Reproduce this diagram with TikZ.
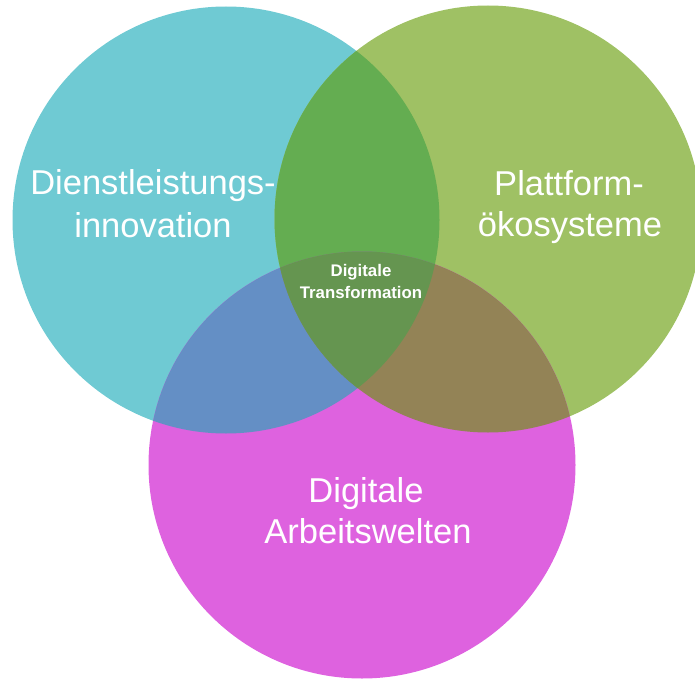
\documentclass[tikz,border=0pt]{standalone}
\usepackage{fontspec}
\setmainfont{Liberation Sans}
\definecolor{cCyan}{HTML}{6FCAD3}
\definecolor{cGreen}{HTML}{9FC164}
\definecolor{cMag}{HTML}{DE62DF}
\definecolor{cCG}{HTML}{64AD51}
\definecolor{cCM}{HTML}{648FC5}
\definecolor{cGM}{HTML}{938356}
\definecolor{cAll}{HTML}{659550}
\begin{document}
\begin{tikzpicture}[x=1bp,y=-1bp,
  biglabel/.style={text=white,align=center,font=\fontsize{34.5bp}{42bp}\selectfont,inner sep=0pt},
  smalllabel/.style={text=white,align=center,font=\bfseries\fontsize{16.8bp}{22bp}\selectfont,inner sep=0pt}]
\useasboundingbox (0,0) rectangle (695,679);
\begin{scope}
\clip (0,0) rectangle (695,679);
\def\rr{213.5}
\coordinate (cC) at (226,220);
\coordinate (cG) at (488,219);
\coordinate (cM) at (362,465);
\fill[cCyan] (cC) circle (\rr);
\fill[cGreen] (cG) circle (\rr);
\fill[cMag] (cM) circle (\rr);
\begin{scope}
  \clip (cC) circle (\rr);
  \fill[cCG] (cG) circle (\rr);
  \fill[cCM] (cM) circle (\rr);
\end{scope}
\begin{scope}
  \clip (cG) circle (\rr);
  \fill[cGM] (cM) circle (\rr);
  \clip (cC) circle (\rr);
  \fill[cAll] (cM) circle (\rr);
\end{scope}
\end{scope}
\node[biglabel,anchor=base] (l1a) at (153,194) {Dienstleistungs-};
\node[biglabel,anchor=base] (l1b) at (153,237) {innovation};
\node[biglabel,anchor=base] (l2a) at (569,195) {Plattform-};
\node[biglabel,anchor=base] (l2b) at (570,236) {ökosysteme};
\node[biglabel,anchor=base] (l3a) at (366,502) {Digitale};
\node[biglabel,anchor=base] (l3b) at (368,543) {Arbeitswelten};
\node[smalllabel,anchor=base] (c1) at (361,276) {Digitale};
\node[smalllabel,anchor=base] (c2) at (361,298) {Transformation};
\end{tikzpicture}
\end{document}
